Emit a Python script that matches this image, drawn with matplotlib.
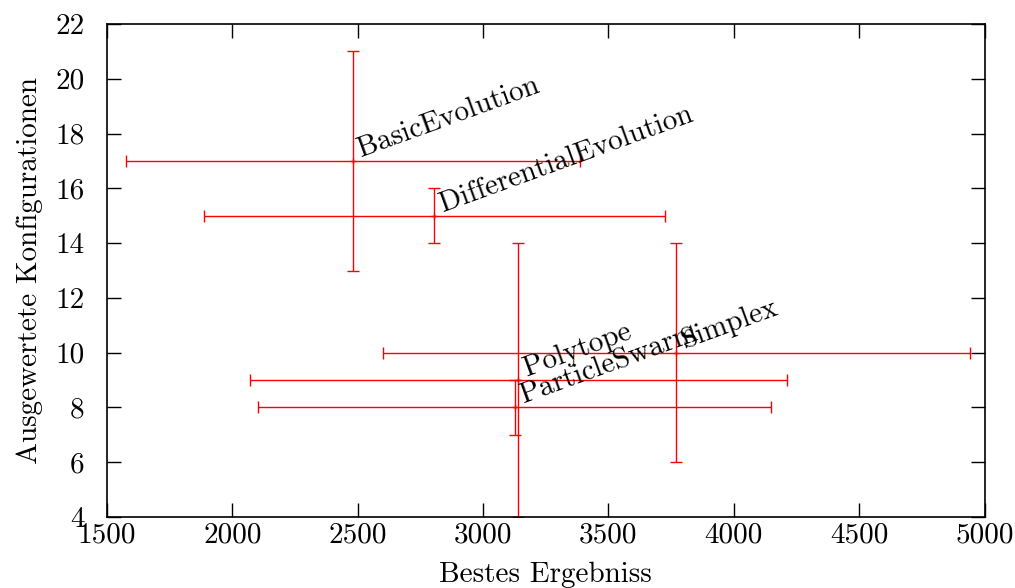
import matplotlib
matplotlib.use('Agg')
import matplotlib.pyplot as plt
import numpy as np

plt.rc('font', family='cmr10', size=21)
plt.rc('axes', unicode_minus=False)
plt.rc('mathtext', fontset='cm')

# data
names = ['BasicEvolution', 'DifferentialEvolution', 'Polytope', 'ParticleSwarm', 'Simplex']
best = [2480, 2806, 3141, 3128, 3770]
best_lo = [1575, 1886, 2069, 2103, 2600]
best_hi = [3385, 3726, 4213, 4147, 4942]
configs = [17, 15, 9, 8, 10]
configs_lo = [13, 14, 4, 7, 6]
configs_hi = [21, 16, 14, 9, 14]

x = np.array(best)
y = np.array(configs)
xerr = [x - np.array(best_lo), np.array(best_hi) - x]
yerr = [y - np.array(configs_lo), np.array(configs_hi) - y]

fig = plt.figure(figsize=(10.15, 5.88), dpi=100)
ax = fig.add_axes([0.1054, 0.1207, 0.8646, 0.8385])

ax.errorbar(x, y, xerr=xerr, yerr=yerr, fmt='+', color='red', ecolor='red',
            elinewidth=1.0, capsize=4, capthick=1.0, markersize=5, markeredgewidth=1.0)

for name, xi, yi in zip(names, x, y):
    ax.annotate(name, (xi, yi), xytext=(6, 3), textcoords='offset points',
                rotation=20, rotation_mode='anchor', ha='left', va='baseline',
                fontsize=21)

ax.set_xlim(1500, 5000)
ax.set_ylim(4, 22)
ax.set_xticks(np.arange(1500, 5001, 500))
ax.set_yticks(np.arange(4, 23, 2))
ax.tick_params(direction='in', length=10, width=1, top=True, right=True)
ax.tick_params(axis='x', pad=4)
ax.tick_params(axis='y', pad=16)
for s in ax.spines.values():
    s.set_linewidth(1.2)

ax.set_xlabel('Bestes Ergebniss', labelpad=9)
ax.set_ylabel('Ausgewertete Konfigurationen', labelpad=9)

fig.savefig('out.png', dpi=100)
